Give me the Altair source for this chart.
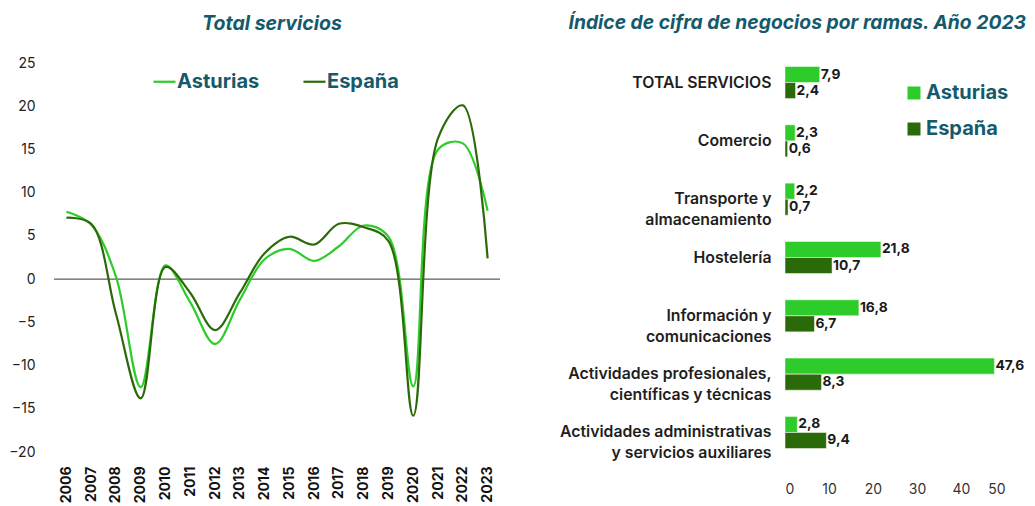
import altair as alt
import pandas as pd

# ---- data ----
years = ["2006", "2007", "2008", "2009", "2010", "2011", "2012", "2013", "2014",
         "2015", "2016", "2017", "2018", "2019", "2020", "2021", "2022", "2023"]
asturias_line = [7.8, 6.3, 0.3, -12.5, 1.6, -2.7, -7.5, -2.4, 2.3, 3.5, 2.1, 3.8,
                 6.2, 4.9, -12.4, 15.0, 15.7, 7.9]
espana_line = [7.1, 6.4, -4.0, -13.8, 1.4, -1.6, -5.9, -1.6, 3.0, 4.9, 4.0, 6.4,
               6.0, 4.4, -15.8, 16.3, 20.1, 2.4]

ramas = ["TOTAL SERVICIOS", "Comercio", "Transporte y|almacenamiento", "Hostelería",
         "Información y|comunicaciones", "Actividades profesionales,|científicas y técnicas",
         "Actividades administrativas|y servicios auxiliares"]
asturias_bar = [7.9, 2.3, 2.2, 21.8, 16.8, 47.6, 2.8]
espana_bar = [2.4, 0.6, 0.7, 10.7, 6.7, 8.3, 9.4]

series = ["Asturias", "España"]
colors = ["#2ecc2a", "#2b6a08"]
teal = "#155a6b"
FONT = "Inter"

# ---- tables ----
line_df = pd.DataFrame({
    "año": years + years,
    "valor": asturias_line + espana_line,
    "serie": [series[0]] * len(years) + [series[1]] * len(years),
})
zero_df = pd.DataFrame({"y": [0]})

bar_df = pd.DataFrame({
    "rama": ramas + ramas,
    "serie": [series[0]] * len(ramas) + [series[1]] * len(ramas),
    "valor": asturias_bar + espana_bar,
})
bar_df["etiqueta"] = bar_df["valor"].map(lambda v: f"{v:.1f}".replace(".", ","))

# ---- left: line chart ----
yscale = alt.Scale(domain=[-20, 25], nice=False)
zero = alt.Chart(zero_df).mark_rule(color="#333333", strokeWidth=1).encode(
    y=alt.Y("y:Q", scale=yscale)
)
lines = alt.Chart(line_df).mark_line(interpolate="catmull-rom", strokeWidth=2.2).encode(
    x=alt.X("año:O", sort=years,
            axis=alt.Axis(title=None, labelAngle=270, labelFontWeight="bold", labelFontSize=14,
                          labelColor="#111111", labelPadding=14, ticks=False, domain=False)),
    y=alt.Y("valor:Q", scale=yscale,
            axis=alt.Axis(title=None, values=list(range(-20, 30, 5)), grid=False, ticks=False,
                          domain=False, labelFontSize=14, labelColor="#222222", labelPadding=19)),
    color=alt.Color("serie:N", sort=series, scale=alt.Scale(domain=series, range=colors),
                    legend=alt.Legend(title=None, orient="none", legendX=98, legendY=6,
                                      direction="horizontal", symbolType="stroke",
                                      symbolSize=484, symbolStrokeWidth=2.2,
                                      labelFontSize=20, labelFontWeight="bold",
                                      labelColor=teal, labelOffset=0, columnPadding=39)),
)
left = alt.layer(zero, lines).properties(
    width=446, height=389,
    title=alt.TitleParams("Total servicios", font=FONT, fontSize=19.5, fontWeight="bold",
                          fontStyle="italic", color=teal, anchor="middle", offset=23,
                          dy=1, dx=-5),
)

# ---- right: bar chart ----
base = alt.Chart(bar_df).encode(
    y=alt.Y("rama:N", sort=ramas,
            scale=alt.Scale(paddingInner=0.45, paddingOuter=0.06),
            axis=alt.Axis(title=None, labelExpr="split(datum.label, '|')", labelFontSize=15.8,
                          labelFontWeight=600, labelColor="#1e1e1e", labelPadding=14,
                          labelLineHeight=21, ticks=False, domain=False, labelLimit=300)),
    yOffset=alt.YOffset("serie:N", sort=series),
    x=alt.X("valor:Q", scale=alt.Scale(domain=[0, 50], nice=False),
            axis=alt.Axis(title=None, values=[0, 10, 20, 30, 40, 50], grid=False, ticks=False,
                          domain=False, labelFontSize=14, labelColor="#333333", labelPadding=30)),
)
bars = base.mark_bar(stroke="white", strokeWidth=0.5).encode(
    color=alt.Color("serie:N", sort=series, scale=alt.Scale(domain=series, range=colors),
                    legend=alt.Legend(title=None, orient="none", legendX=119, legendY=20,
                                      symbolType="square", symbolSize=169,
                                      symbolStrokeWidth=0, labelFontSize=20,
                                      labelFontWeight="bold", labelColor=teal,
                                      labelOffset=2, rowPadding=16)),
)
labels = base.mark_text(align="left", baseline="middle", dx=1, fontSize=13.8,
                        fontWeight="bold", color="#1a1a1a").encode(text="etiqueta:N")
right = alt.layer(bars, labels).properties(
    width=220, height=389,
    title=alt.TitleParams("Índice de cifra de negocios por ramas. Año 2023", font=FONT,
                          fontSize=19.3, fontWeight="bold", fontStyle="italic", color=teal,
                          anchor="start", frame="bounds", offset=23, dx=9, dy=-7),
)

chart = alt.hconcat(left, right, spacing=58).resolve_scale(
    color="independent", yOffset="independent"
).configure(
    font=FONT, padding={"left": 0, "top": 5, "right": 0, "bottom": 0}
).configure_view(stroke=None)

chart.save("out.html", embed_options={"renderer": "svg", "actions": False})
